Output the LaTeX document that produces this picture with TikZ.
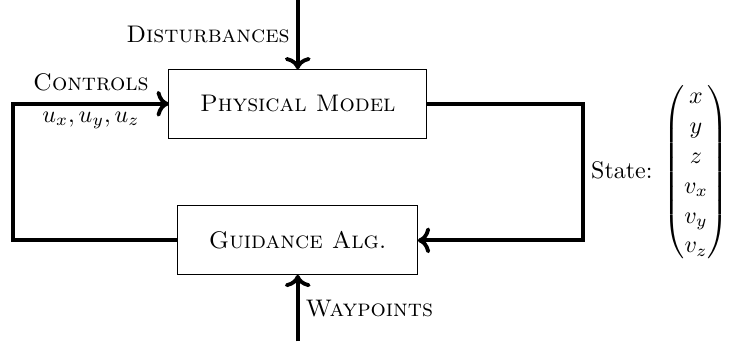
\documentclass[tikz,border=0pt]{standalone}
\usepackage{amsmath}
\usetikzlibrary{positioning}
\usetikzlibrary{calc,arrows.meta}
\renewcommand{\arraystretch}{1.04}

\begin{document}
\begin{tikzpicture}[every node/.style={outer sep=0pt},
		block/.style={draw,thin,inner xsep=13pt,minimum height=1.01cm},
		flow/.style={line width=1.6pt}
		]
		\useasboundingbox (0,0) rectangle (10.69,-5);
		
		\node[block] (phys) at (4.36,-1.52) {\textsc{Physical Model}};
		\node[block] (guid) at (4.36,-3.52) {\textsc{Guidance Alg.}};
		\coordinate(D) at (4.36,0);
		\coordinate(W) at (4.36,-5);
		\coordinate(L) at (0.19,0);
		\coordinate(R) at (8.54,0);
		
		\draw[flow,->] (D) -- (phys.north) node[midway,left] (dist) {\textsc{Disturbances}};
		\draw[flow,->] (W) -- (guid.south) node[midway,right] (wayp) {\textsc{Waypoints}};
		\draw[flow,->] (guid.west) -- (guid.west -| L) -- (phys.west -| L) -- (phys.west) node[midway,above=2pt] (ctrl) {\textsc{Controls}} node[midway,below] (uvec) {$u_x,u_y,u_z$};
		\draw[flow,->] (phys.east) -- (phys.east -| R) -- (guid.east -| R) node[midway,right] (state) {State: $\begin{pmatrix} x\\ y\\ z\\ v_x\\ v_y\\ v_z \end{pmatrix}$} -- (guid.east);
	\end{tikzpicture}
\end{document}
